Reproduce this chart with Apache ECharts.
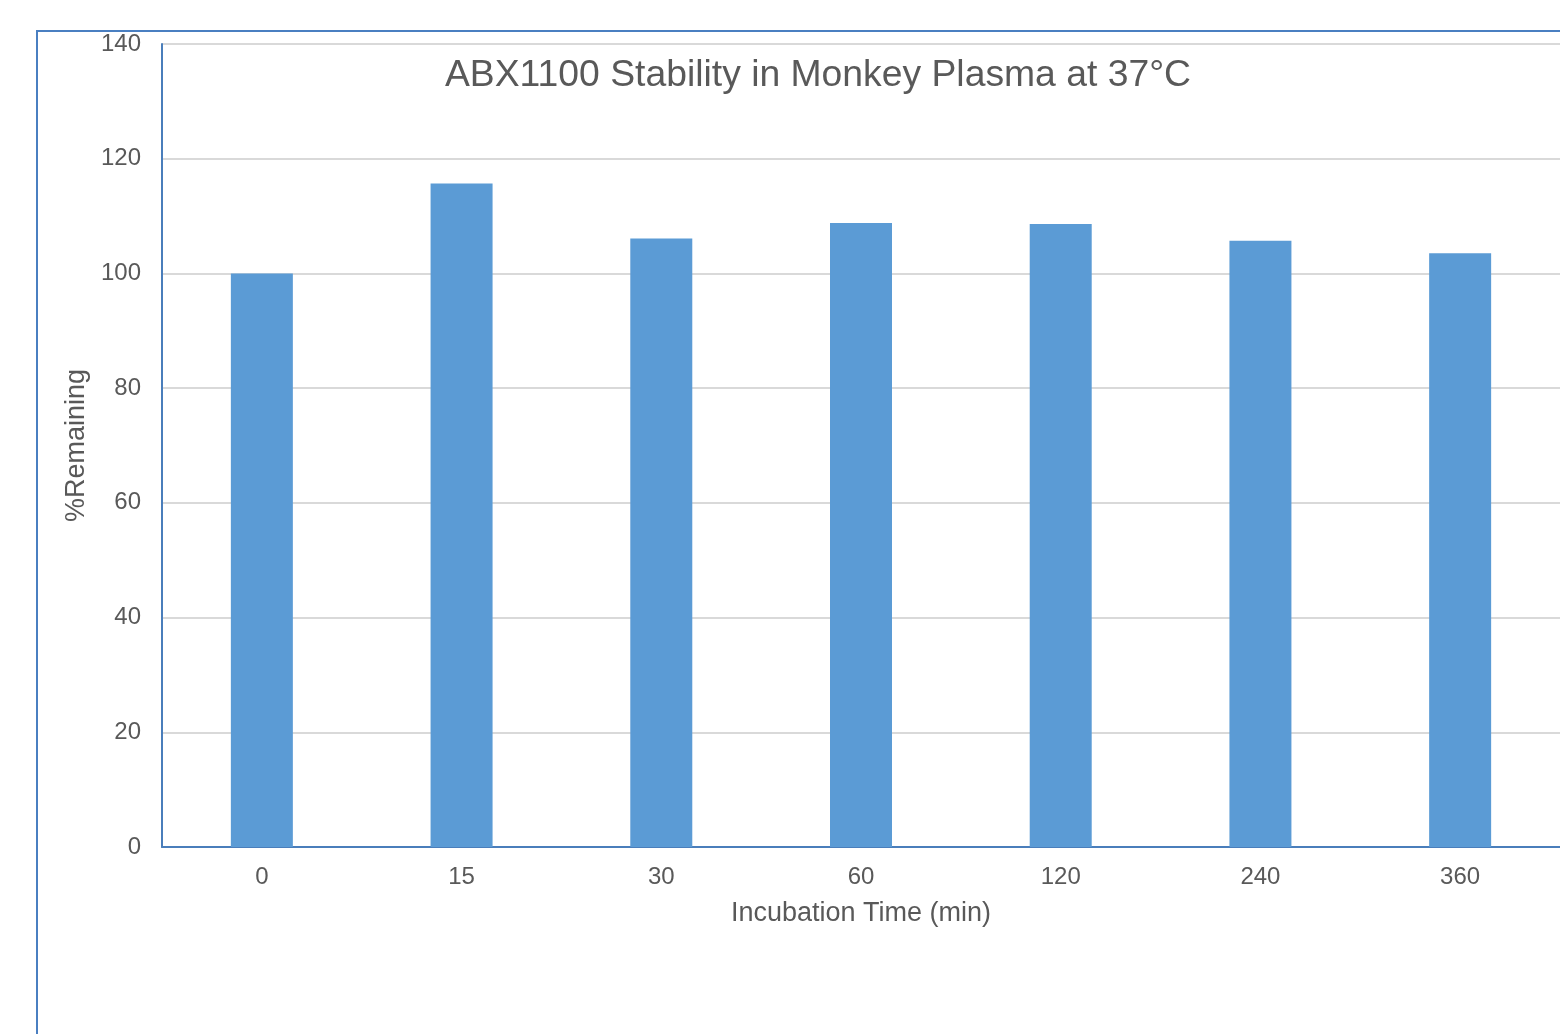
<!DOCTYPE html>
<html>
<head>
<meta charset="utf-8">
<script src="https://cdn.jsdelivr.net/npm/echarts@6/dist/echarts.min.js"></script>
<style>html,body{margin:0;padding:0;background:#fff}#c{width:1560px;height:1034px}</style>
</head>
<body>
<div id="c"></div>
<script>
const categories = ['0', '15', '30', '60', '120', '240', '360'];
const remaining = [100, 115.7, 106.1, 108.8, 108.6, 105.7, 103.5];
const titleText = 'ABX1100 Stability in Monkey Plasma at 37°C';
const xName = 'Incubation Time (min)';
const yName = '%Remaining';

const chart = echarts.init(document.getElementById('c'), null, {renderer: 'canvas'});
const font = 'Liberation Sans, Arial, sans-serif';
chart.setOption({
  animation: false,
  backgroundColor: '#fff',
  title: {
    text: titleText,
    left: 813, top: 52, textAlign: 'center',
    textStyle: {fontFamily: font, fontSize: 37.3, fontWeight: 'normal', color: '#595959'}
  },
  graphic: [{
    type: 'rect', silent: true, z: -1,
    shape: {x: 37, y: 31, width: 1600, height: 1100},
    style: {fill: 'none', stroke: '#4a7fc1', lineWidth: 2}
  }],
  grid: {left: 162, top: 44, width: 1400, bottom: 187, containLabel: false},
  xAxis: {
    type: 'category', data: categories,
    name: xName, nameLocation: 'middle', nameGap: 53,
    nameTextStyle: {fontFamily: font, fontSize: 27, color: '#595959'},
    axisLine: {lineStyle: {color: '#4a7ebb', width: 2}},
    axisTick: {show: false},
    axisLabel: {fontFamily: font, fontSize: 24, color: '#595959', margin: 18}
  },
  yAxis: {
    type: 'value', min: 0, max: 140, interval: 20,
    name: yName, nameLocation: 'middle', nameGap: 67,
    nameTextStyle: {fontFamily: font, fontSize: 27, color: '#595959'},
    axisLine: {show: true, lineStyle: {color: '#4a7ebb', width: 2}},
    axisTick: {show: false},
    axisLabel: {fontFamily: font, fontSize: 24, color: '#595959', margin: 21},
    splitLine: {lineStyle: {color: '#d9d9d9', width: 2}}
  },
  series: [{
    type: 'bar', data: remaining, barWidth: 62,
    itemStyle: {color: '#5b9bd5'}
  }]
});
</script>
</body>
</html>
